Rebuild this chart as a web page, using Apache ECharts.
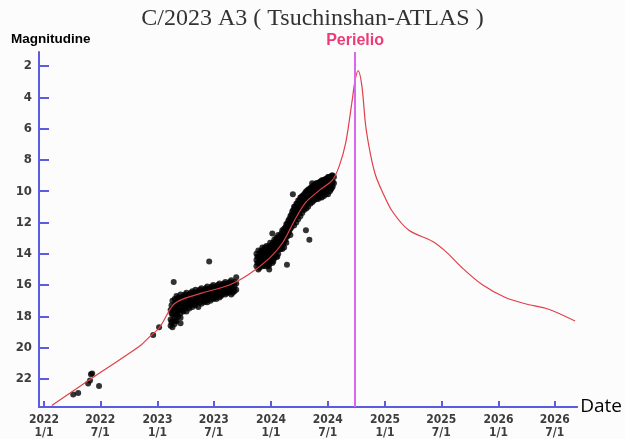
<!DOCTYPE html>
<html><head><meta charset="utf-8">
<script src="https://cdn.jsdelivr.net/npm/echarts@6/dist/echarts.min.js"></script>
<style>html,body{margin:0;padding:0;background:#fbfcfb}#c{width:625px;height:439px}</style>
</head><body><div id="c"></div>
<script>
const titleText = 'C/2023 A3 ( Tsuchinshan-ATLAS )';
const yAxisTitle = 'Magnitudine';
const xAxisTitle = 'Date';
const perihelionLabel = 'Perielio';
const perihelionDate = '2024-09-27';
const yTicks = [2,4,6,8,10,12,14,16,18,20,22];
const xTicks = ['2022-01-01','2022-07-01','2023-01-01','2023-07-01','2024-01-01','2024-07-01','2025-01-01','2025-07-01','2026-01-01','2026-07-01'];

// fitted light curve (red)
const curveDates = ['2022-01-26','2022-07-01','2022-11-05','2022-12-07','2023-01-08','2023-02-19','2023-03-23','2023-05-26','2023-08-20','2023-10-23','2023-12-26','2024-02-07','2024-03-21','2024-04-22','2024-06-04','2024-07-16','2024-08-07','2024-08-28','2024-09-18','2024-09-27','2024-10-07','2024-10-19','2024-10-31','2024-11-16','2024-12-02','2024-12-24','2025-01-25','2025-03-19','2025-06-02','2025-07-15','2025-09-06','2025-11-09','2026-01-23','2026-03-28','2026-06-11','2026-09-04'];
const curveMags = [23.7,21.6,19.9,19.3,18.7,17.3,16.9,16.5,16.0,15.3,14.3,13.3,11.7,10.7,9.95,9.3,8.4,6.9,4.15,2.9,2.3,3.3,5.8,7.7,9.0,10.05,11.3,12.5,13.2,13.85,14.9,15.97,16.8,17.2,17.55,18.3];

// observations (black dots)
const obsEarly = [['2022-04-05',23.0],['2022-04-21',22.9],['2022-05-23',22.3],['2022-05-29',22.1],['2022-06-01',21.7],['2022-06-05',21.65],['2022-06-27',22.45],['2022-12-18',19.2],['2023-01-06',18.7]];
const obs2023 = [
 ['2023-02-12',[17.6,18.2,18.6]],
 ['2023-02-15',[17.3,17.8,18.4]],
 ['2023-02-18',[17.0,17.5,17.9,18.3,18.7]],
 ['2023-02-22',[15.8]],
 ['2023-02-25',[16.9,17.3,17.7,18.1,18.5]],
 ['2023-02-28',[17.1,17.5,17.9,18.3]],
 ['2023-03-03',[16.7,17.1,17.5,17.9,18.3]],
 ['2023-03-06',[16.9,17.3,17.7]],
 ['2023-03-09',[16.8,17.2,17.6,18.0]],
 ['2023-03-16',[16.6,17.0,17.4,17.8,18.1,18.45]],
 ['2023-03-20',[16.8,17.2,17.6]],
 ['2023-03-25',[16.7,17.0,17.4,17.7]],
 ['2023-03-30',[16.6,17.2,17.5]],
 ['2023-04-04',[16.5,16.9,17.3,17.7]],
 ['2023-04-09',[16.7,17.1,17.4]],
 ['2023-04-13',[16.6,16.9,17.2,17.5]],
 ['2023-04-18',[16.5,17.0,17.3]],
 ['2023-04-23',[16.4,16.8,17.1,17.4]],
 ['2023-04-28',[16.5,16.9,17.2]],
 ['2023-05-03',[16.3,16.6,17.0,17.3]],
 ['2023-05-07',[16.5,16.8,17.1]],
 ['2023-05-12',[16.4,16.7,17.0,17.4]],
 ['2023-05-17',[16.3,16.8,17.1]],
 ['2023-05-22',[16.2,16.6,16.9,17.2]],
 ['2023-05-27',[16.4,16.7,17.0]],
 ['2023-06-01',[16.3,16.6,16.9,17.1]],
 ['2023-06-05',[16.2,16.7,17.0]],
 ['2023-06-10',[16.1,16.5,16.8,17.1]],
 ['2023-06-15',[16.3,16.6,16.9]],
 ['2023-06-16',[14.5]],
 ['2023-06-20',[16.2,16.5,16.8,17.0]],
 ['2023-06-24',[16.1,16.4,16.8]],
 ['2023-06-29',[16.0,16.3,16.6,16.9]],
 ['2023-07-04',[16.2,16.5,16.8]],
 ['2023-07-09',[16.1,16.4,16.7,16.9]],
 ['2023-07-14',[16.0,16.3,16.6]],
 ['2023-07-19',[15.9,16.2,16.5,16.8]],
 ['2023-07-24',[16.1,16.4,16.7]],
 ['2023-07-28',[16.0,16.3,16.6]],
 ['2023-08-02',[15.9,16.2,16.5]],
 ['2023-08-07',[15.8,16.1,16.4,16.6]],
 ['2023-08-12',[16.0,16.3,16.5]],
 ['2023-08-16',[15.9,16.2,16.5]],
 ['2023-08-21',[15.8,16.1,16.4]],
 ['2023-08-26',[15.7,16.0,16.3,16.6]],
 ['2023-08-31',[15.9,16.2,16.5]],
 ['2023-09-05',[15.8,16.1,16.4]],
 ['2023-09-11',[15.5,15.9,16.3]]
];
const obs2024 = [
 ['2023-11-15',[14.0,14.4,14.8]],
 ['2023-11-18',[14.2,14.6]],
 ['2023-11-21',[13.8,14.2,14.6,15.0]],
 ['2023-11-25',[14.1,14.5,14.9]],
 ['2023-11-28',[13.9,14.3,14.7]],
 ['2023-12-01',[13.8,14.2,14.6]],
 ['2023-12-04',[13.6,14.0,14.4,14.8]],
 ['2023-12-07',[13.9,14.3,14.7]],
 ['2023-12-10',[13.7,14.1,14.5]],
 ['2023-12-13',[13.6,14.0,14.4,14.8]],
 ['2023-12-17',[13.5,13.9,14.3,14.7]],
 ['2023-12-20',[13.7,14.2,14.6]],
 ['2023-12-23',[13.6,14.0,14.4,14.8]],
 ['2023-12-26',[13.5,13.9,14.3,14.7,15.0]],
 ['2023-12-29',[13.3,13.7,14.1,14.5]],
 ['2024-01-02',[13.5,13.9,14.3]],
 ['2024-01-05',[12.7,13.4,13.8,14.2,14.6]],
 ['2024-01-08',[13.3,13.7,14.1,14.5]],
 ['2024-01-11',[13.1,13.5,13.9,14.3]],
 ['2024-01-15',[13.2,13.6,14.0]],
 ['2024-01-18',[13.0,13.4,13.8,14.2]],
 ['2024-01-21',[13.0,13.4,13.8,14.2]],
 ['2024-01-24',[12.8,13.2,13.6,14.0]],
 ['2024-01-28',[12.9,13.3,13.7]],
 ['2024-01-31',[12.9,13.3,13.7]],
 ['2024-02-03',[12.7,13.1,13.5]],
 ['2024-02-06',[12.5,12.9,13.3,13.7]],
 ['2024-02-09',[12.6,13.0,13.4]],
 ['2024-02-12',[12.4,12.8,13.2,13.6]],
 ['2024-02-16',[12.3,12.7,13.1]],
 ['2024-02-19',[12.1,12.5,12.9,13.3]],
 ['2024-02-21',[14.7]],
 ['2024-02-22',[12.1,12.5,12.9]],
 ['2024-02-25',[11.9,12.3,12.7]],
 ['2024-02-28',[11.8,12.2,12.6]],
 ['2024-03-03',[11.6,12.0,12.4,12.8]],
 ['2024-03-06',[11.5,11.9,12.3]],
 ['2024-03-09',[11.3,11.7,12.1]],
 ['2024-03-11',[10.2]],
 ['2024-03-12',[11.2,11.6,12.0]],
 ['2024-03-15',[11.0,11.4,11.8,12.2]],
 ['2024-03-18',[11.0,11.4,11.8]],
 ['2024-03-22',[10.8,11.2,11.6,12.0]],
 ['2024-03-25',[10.8,11.2,11.6]],
 ['2024-03-28',[10.6,11.0,11.4,11.8]],
 ['2024-04-01',[10.6,11.0,11.4]],
 ['2024-04-04',[10.4,10.8,11.2,11.6]],
 ['2024-04-07',[10.4,10.8,11.2]],
 ['2024-04-10',[10.3,10.7,11.1,11.4]],
 ['2024-04-13',[10.3,10.7,11.0]],
 ['2024-04-16',[10.2,10.5,10.9,11.2]],
 ['2024-04-20',[10.1,10.5,10.9]],
 ['2024-04-22',[12.5]],
 ['2024-04-23',[10.0,10.4,10.8,11.1]],
 ['2024-04-26',[10.0,10.4,10.8]],
 ['2024-04-29',[9.9,10.3,10.6,11.0]],
 ['2024-05-03',[9.9,10.3,10.6,13.1]],
 ['2024-05-06',[9.8,10.2,10.5,10.8]],
 ['2024-05-09',[9.8,10.1,10.5]],
 ['2024-05-12',[9.5,9.7,10.0,10.4,10.7]],
 ['2024-05-15',[9.7,10.1,10.4]],
 ['2024-05-18',[9.6,10.0,10.3,10.6]],
 ['2024-05-22',[9.6,10.0,10.3]],
 ['2024-05-25',[9.5,9.9,10.2,10.5]],
 ['2024-05-28',[9.5,9.9,10.3]],
 ['2024-05-31',[9.5,9.8,10.2,10.5]],
 ['2024-06-03',[9.5,9.8,10.2]],
 ['2024-06-06',[9.4,9.7,10.1,10.4]],
 ['2024-06-09',[9.4,9.8,10.1]],
 ['2024-06-12',[9.3,9.7,10.0,10.4]],
 ['2024-06-16',[9.3,9.7,10.1]],
 ['2024-06-19',[9.3,9.6,9.9,10.3]],
 ['2024-06-22',[9.3,9.6,10.0]],
 ['2024-06-25',[9.2,9.5,9.9,10.2]],
 ['2024-06-28',[9.2,9.6,9.9]],
 ['2024-07-02',[9.1,9.5,9.8,10.2]],
 ['2024-07-05',[9.1,9.4,9.8]],
 ['2024-07-08',[9.2,9.6,10.0]],
 ['2024-07-11',[9.2,9.5,9.9]],
 ['2024-07-14',[9.0,9.4,9.8]],
 ['2024-07-17',[9.0,9.4,9.7]],
 ['2024-07-21',[9.1,9.5]]
];

const t = s => Date.parse(s + 'T00:00:00Z');
const curveData = curveDates.map((d, i) => [t(d), curveMags[i]]);
const obsData = obsEarly.map(p => [t(p[0]), p[1]]);
[obs2023, obs2024].forEach(group => group.forEach(([d, mags]) => mags.forEach(m => obsData.push([t(d), m]))));

const axisBlue = '#5c5ce0';
const tickFont = "'Liberation Sans Narrow','DejaVu Sans Condensed','Liberation Sans',sans-serif";

const chart = echarts.init(document.getElementById('c'), null, {renderer: 'canvas'});
chart.setOption({
  backgroundColor: '#fbfcfb',
  animation: false,
  title: [
    {text: titleText, left: 'center', top: 7, padding: 0,
     textStyle: {fontFamily: "'Liberation Serif','DejaVu Serif',serif", fontSize: 24, fontWeight: 'normal', color: '#333'}},
    {text: yAxisTitle, left: 11, top: 32, padding: 0,
     textStyle: {fontFamily: "'Liberation Sans',Arial,sans-serif", fontSize: 13.5, fontWeight: 'bold', color: '#000'}}
  ],
  grid: {left: 39, right: 46, top: 52, bottom: 29, containLabel: false},
  xAxis: {
    type: 'value',
    min: t('2021-12-16'), max: t('2026-09-11'),
    name: xAxisTitle, nameLocation: 'end', nameGap: 3,
    nameTextStyle: {fontFamily: "'Open Sans',sans-serif", fontSize: 19, color: '#000', verticalAlign: 'middle'},
    axisLine: {show: true, lineStyle: {color: axisBlue, width: 2}},
    axisTick: {show: true, inside: true, length: 6, customValues: xTicks.map(t), lineStyle: {color: axisBlue, width: 2}},
    axisLabel: {show: true, customValues: xTicks.map(t), margin: 6, lineHeight: 13,
      fontFamily: tickFont, fontSize: 12, fontWeight: 'bold', color: '#3d3d3d',
      formatter: v => { const d = new Date(v); return d.getUTCFullYear() + '\n' + (d.getUTCMonth() + 1) + '/' + d.getUTCDate(); }},
    splitLine: {show: false}
  },
  yAxis: {
    type: 'value', inverse: true, min: 1.1, max: 23.8,
    axisLine: {show: true, lineStyle: {color: axisBlue, width: 2}},
    axisTick: {show: true, inside: true, length: 10, customValues: yTicks, lineStyle: {color: axisBlue, width: 2}},
    axisLabel: {show: true, customValues: yTicks, margin: 7,
      fontFamily: tickFont, fontSize: 13, fontWeight: 'bold', color: '#3d3d3d'},
    splitLine: {show: false}
  },
  series: [
    {
      type: 'line', data: curveData, showSymbol: false, smooth: 0.3,
      lineStyle: {color: '#e0404a', width: 1.2}, z: 3,
      markLine: {
        silent: true, symbol: ['none', 'none'], animation: false,
        lineStyle: {color: '#dd66ee', width: 2, type: 'solid'},
        label: {show: true, position: 'start', formatter: perihelionLabel, distance: 3,
          color: '#ee3a78', fontWeight: 'bold', fontSize: 16, fontFamily: "'Liberation Sans',Arial,sans-serif"},
        data: [{xAxis: t(perihelionDate)}]
      }
    },
    {
      type: 'scatter', data: obsData, symbol: 'circle', symbolSize: 6,
      itemStyle: {color: '#000'}, z: 2
    }
  ]
});
</script></body></html>
